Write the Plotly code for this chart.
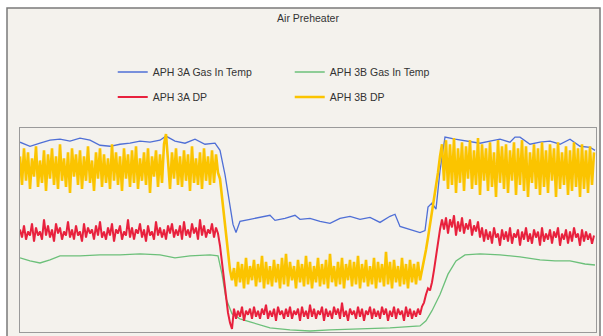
import plotly.graph_objects as go

# ---- data (time index in samples, values in % of DP/temperature span) ----
title_text = "Air Preheater"
names = ["APH 3A Gas In Temp", "APH 3B Gas In Temp", "APH 3A DP", "APH 3B DP"]
colors = ["#4f6fd6", "#6cc07a", "#e8213d", "#fbc400"]

blue_t = [0, 10, 20, 30, 40, 50, 60, 70, 80, 90, 100, 110, 120, 130, 140, 146, 155, 165, 175, 185,
          195, 200, 205, 210, 213, 216, 220, 230, 240, 250, 255, 265, 275, 280, 290, 300, 310, 320,
          330, 340, 350, 360, 370, 375, 380, 390, 400, 405, 408, 412, 416, 420, 425, 435, 450, 460,
          470, 480, 490, 495, 500, 510, 520, 530, 540, 550, 560, 570, 575]
blue_v = [93, 91, 92.5, 94, 94.5, 93.5, 95, 94, 91.5, 91, 92, 92.5, 93.5, 93, 94, 96, 93.5, 92.5, 94.5, 92,
          92.5, 89, 77, 62, 52.5, 48.5, 54, 55, 56, 57, 54.5, 55.5, 57, 55, 55.5, 54, 53, 55.5,
          56.5, 55, 56, 53.5, 56.5, 57.5, 51.5, 50, 48.5, 49.5, 61, 63, 60, 79, 95.5, 94.5, 93.5, 92.5,
          93.5, 94.5, 93, 95.5, 95.5, 92, 93, 93.5, 92, 94.5, 91, 90.5, 89]

green_t = [0, 10, 20, 30, 40, 60, 80, 100, 120, 140, 155, 170, 190, 198, 202, 206, 212, 220, 230, 240,
           250, 270, 290, 310, 340, 370, 400, 406, 412, 420, 428, 436, 445, 460, 480, 500, 520, 535,
           550, 565, 575]
green_v = [36, 34.5, 33.5, 35, 37, 37, 37.5, 37.5, 38, 37.5, 36, 37, 37.5, 37, 28, 16, 8.5, 6, 4.5, 3,
           1.5, 0.5, 0, 0.5, 1, 1.5, 2.5, 5, 10, 18, 28, 34.5, 37.5, 38, 37.5, 36.5, 35, 34.5,
           34.5, 33, 32.5]

red_v = [
    50, 46, 52, 45, 49, 47, 53, 44, 51, 47,
    49, 45, 55, 47, 52, 46, 50, 44, 53, 48,
    51, 45, 49, 47, 54, 46, 50, 45, 52, 47,
    49, 44, 53, 46, 51, 48, 50, 45, 52, 47,
    54, 46, 49, 45, 51, 47, 53, 44, 50, 48,
    52, 45, 49, 47, 55, 46, 51, 45, 50, 48,
    53, 46, 50, 44, 52, 47, 49, 45, 54, 47,
    51, 46, 50, 45, 52, 48, 53, 46, 50, 47,
    52, 45, 54, 47, 50, 46, 53, 48, 51, 45,
    55, 47, 52, 46, 50, 48, 53, 46, 51, 48,
    42, 34, 24, 15, 9, 4, 1,
    11, 6, 10, 7, 12, 5, 10, 8, 11, 6,
    12, 7, 10, 6, 11, 8, 13, 6, 10, 7,
    11, 5, 12, 8, 10, 6, 11, 7, 12, 6,
    10, 8, 11, 5, 12, 7, 10, 6, 13, 7,
    11, 6, 10, 8, 12, 5, 11, 7, 10, 6,
    12, 8, 11, 6, 14, 7, 10, 5, 11, 8,
    10, 6, 12, 7, 11, 5, 10, 8, 12, 6,
    11, 7, 10, 6, 12, 8, 11, 5, 10, 7,
    12, 6, 11, 8, 10, 5, 12, 7, 11, 6,
    10, 7, 11, 8, 12,
    14, 18, 21, 20, 24, 30, 37, 44, 50, 55,
    50, 56, 48, 55, 51, 57, 47, 54, 49, 56,
    48, 53, 50, 55, 47, 52, 49, 54, 46, 51,
    44, 50, 45, 49, 43, 51, 46, 48, 42, 50,
    45, 49, 44, 51, 43, 48, 46, 50, 42, 49,
    45, 51, 44, 48, 43, 50, 46, 49, 42, 51,
    44, 48, 45, 50, 43, 49, 46, 51, 42, 48,
    45, 50, 43, 49, 44, 51, 46, 48, 42, 50,
    44, 49, 45, 48, 43, 47,
]

yellow_v = [
    86, 72, 90, 74, 88, 70, 85, 76, 91, 71,
    84, 73, 89, 69, 87, 75, 90, 72, 86, 70,
    92, 74, 85, 71, 88, 68, 90, 76, 87, 72,
    89, 70, 86, 74, 91, 73, 84, 69, 88, 75,
    90, 71, 87, 73, 85, 70, 92, 74, 88, 72,
    86, 69, 90, 75, 87, 71, 89, 73, 91, 70,
    85, 74, 88, 72, 90, 68, 86, 76, 89, 71,
    87, 73, 92, 97, 84, 70, 88, 75, 90, 72,
    86, 71, 89, 74, 87, 69, 91, 73, 85, 72,
    88, 70, 90, 74, 86, 72, 89, 73, 87, 78,
    75, 66, 58, 48, 38, 30, 25, 31,
    22, 34, 24, 33, 21, 36, 23, 32, 25, 35,
    22, 33, 24, 37, 21, 34, 23, 32, 22, 35,
    24, 33, 21, 36, 23, 38, 22, 34, 25, 32,
    21, 35, 24, 33, 22, 37, 23, 34, 21, 32,
    24, 36, 22, 33, 23, 35, 21, 38, 24, 32,
    22, 34, 23, 36, 21, 33, 25, 35, 22, 34,
    23, 37, 21, 33, 24, 35, 22, 32, 23, 36,
    21, 34, 24, 33, 22, 39, 23, 34, 21, 35,
    24, 32, 22, 36, 23, 33, 21, 35, 24, 33,
    23, 34, 25, 30,
    34, 40, 46, 52, 58, 64, 70, 78, 86, 92,
    74, 94, 70, 92, 72, 95, 68, 90, 73, 93,
    69, 91, 75, 94, 70, 89, 72, 95, 67, 92,
    74, 90, 69, 93, 71, 88, 66, 94, 73, 91,
    70, 92, 68, 89, 74, 93, 67, 90, 72, 94,
    69, 91, 66, 88, 73, 92, 70, 90, 67, 93,
    71, 89, 68, 92, 74, 90, 66, 93, 70, 88,
    72, 91, 67, 89, 69, 93, 71, 90, 66, 92,
    70, 89, 68, 91, 72, 88,
]
dp_t = list(range(0, 2 * len(yellow_v), 2))

fig = go.Figure()
fig.add_trace(go.Scatter(x=blue_t, y=blue_v, mode="lines", name=names[0],
                         line=dict(color=colors[0], width=1.3), legend="legend"))
fig.add_trace(go.Scatter(x=green_t, y=green_v, mode="lines", name=names[1],
                         line=dict(color=colors[1], width=1.3), legend="legend"))
fig.add_trace(go.Scatter(x=dp_t, y=red_v, mode="lines", name=names[2],
                         line=dict(color=colors[2], width=2.0), legend="legend2"))
fig.add_trace(go.Scatter(x=dp_t, y=yellow_v, mode="lines", name=names[3],
                         line=dict(color=colors[3], width=2.6), legend="legend2"))

legend_common = dict(orientation="h", xanchor="left", yanchor="middle", x=0.161,
                     entrywidth=132, entrywidthmode="pixels", bgcolor="rgba(0,0,0,0)",
                     font=dict(family="Liberation Sans, Arial, sans-serif", size=10.5, color="#333"),
                     itemclick=False, itemdoubleclick=False)

fig.update_layout(
    width=603, height=336,
    margin=dict(l=20, r=7, t=128, b=4),
    paper_bgcolor="white",
    plot_bgcolor="white",
    title=dict(text=title_text, x=0.5, xref="paper", xanchor="center", y=1 - 18 / 336, yref="container",
               yanchor="middle", font=dict(family="Liberation Sans, Arial, sans-serif", size=10.5, color="#333")),
    legend=dict(y=(332 - 72) / 204, **legend_common),
    legend2=dict(y=(332 - 97) / 204, **legend_common),
    showlegend=True,
    xaxis=dict(range=[0, 576], showgrid=False, zeroline=False, showticklabels=False, ticks="",
               showline=True, mirror=True, linecolor="#9a9a9a", linewidth=1),
    yaxis=dict(range=[-0.5, 100], showgrid=False, zeroline=False, showticklabels=False, ticks="",
               showline=True, mirror=True, linecolor="#9a9a9a", linewidth=1),
    shapes=[dict(type="rect", xref="paper", yref="paper", layer="below",
                 x0=(7 - 20) / 576, x1=(600 - 20) / 576, y0=(332 - 345) / 204, y1=(332 - 8) / 204,
                 fillcolor="#f4f2ed", line=dict(color="#7a7a7a", width=1.5))],
)

fig.write_html("out.html")
